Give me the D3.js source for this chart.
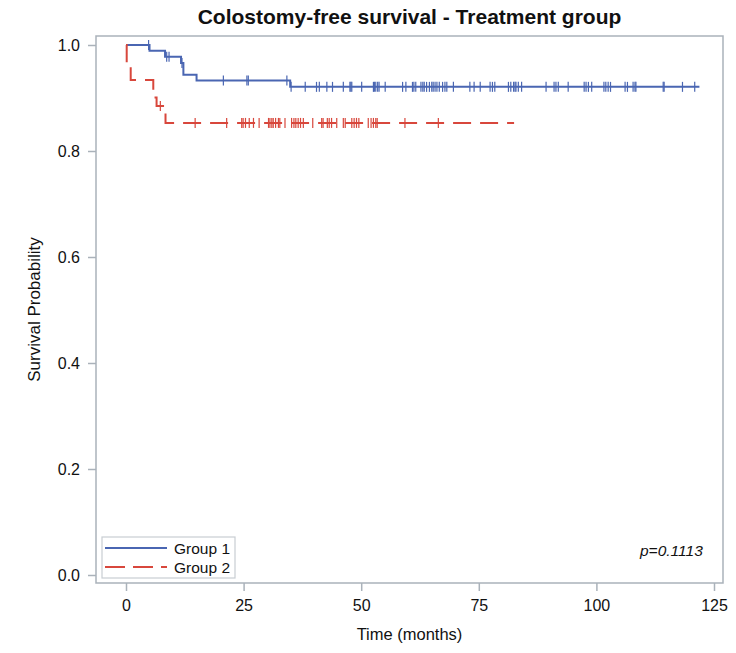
<!DOCTYPE html>
<html>
<head>
<meta charset="utf-8">
<script src="https://cdn.jsdelivr.net/npm/d3@7"></script>
<style>
  body { margin: 0; background: #fff; }
  svg { display: block; }
  text { font-family: "Liberation Sans", Arial, sans-serif; }
</style>
</head>
<body>
<svg id="chart" width="736" height="653"></svg>
<script>
// ---------- data ----------
const title = "Colostomy-free survival - Treatment group";
const xLabel = "Time (months)";
const yLabel = "Survival Probability";
const xTicks = [0, 25, 50, 75, 100, 125];
const yTicks = [0.0, 0.2, 0.4, 0.6, 0.8, 1.0];
const seriesNames = ["Group 1", "Group 2"];
const pText = "p=0.1113";

// step curves: [time, survival]
const group1Steps = [[0,1],[5.0,0.989],[8.3,0.978],[11.7,0.966],[12.2,0.944],[15.0,0.933],[34.9,0.921],[121.9,0.921]];
const group2Steps = [[0,1],[0.15,0.967],[1.0,0.934],[5.8,0.901],[6.5,0.885],[8.4,0.853],[82.5,0.853]];

// censoring times
const group1Censor = [4.8, 8.65, 9.15, 11.9, 20.7, 25.7, 26.0, 34.2, 35.1,
  38.1, 40.5, 41.1, 42.7, 43.9, 46.2, 47.6, 47.8, 48.0, 50.1, 52.6, 52.8, 53.1, 53.5, 53.8, 55.1,
  58.8, 59.5, 60.9, 61.2, 61.6, 62.7, 63.1, 63.4, 63.9, 64.5, 65.0, 65.3, 65.7, 66.1, 66.6, 67.3,
  67.8, 68.2, 69.6, 73.1, 74.0, 75.3, 77.4, 77.9, 78.4, 81.3, 81.8, 82.4, 82.7, 82.9, 83.4, 84.1,
  89.3, 91.0, 91.4, 91.9, 94.0, 97.4, 97.8, 98.3, 99.0, 101.6, 102.0, 102.5, 103.0, 106.1, 106.6,
  107.8, 108.2, 108.4, 114.2, 114.4, 118.3, 120.9];
const group2Censor = [7.3, 14.7, 21.4, 24.6, 24.9, 25.4, 26.2, 27.1, 28.3, 30.3, 30.6, 31.0, 31.3,
  31.8, 32.4, 32.7, 33.8, 35.2, 35.7, 36.1, 36.6, 37.1, 37.7, 39.7, 41.6, 41.9, 42.8, 43.2, 43.7,
  44.8, 46.2, 46.6, 48.0, 48.5, 49.0, 49.5, 51.5, 52.1, 52.6, 53.1, 53.4, 59.3, 66.4];

// ---------- layout ----------
const colors = ["#4a66b2", "#d8473c"];
const frameColor = "#aab2ba";
const svg = d3.select("#chart");

const x = d3.scaleLinear().domain([0, 125]).range([126, 714]);
const y = d3.scaleLinear().domain([0, 1]).range([575, 45]);
const frame = { x0: 96, x1: 723, y0: 36, y1: 583 };

// frame
svg.append("rect")
  .attr("x", frame.x0).attr("y", frame.y0)
  .attr("width", frame.x1 - frame.x0).attr("height", frame.y1 - frame.y0)
  .attr("fill", "none").attr("stroke", frameColor).attr("stroke-width", 1.5);

// axes
const xAxis = d3.axisBottom(x).tickValues(xTicks).tickSize(8).tickPadding(9).tickFormat(d3.format("d"));
const gx = svg.append("g").attr("transform", `translate(0,${frame.y1})`).call(xAxis);
gx.select(".domain").remove();
gx.selectAll("line").attr("stroke", frameColor).attr("stroke-width", 1.5);
gx.selectAll("text").attr("font-size", 16).attr("fill", "#111");

const yAxis = d3.axisLeft(y).tickValues(yTicks).tickSize(8).tickPadding(8).tickFormat(d3.format(".1f"));
const gy = svg.append("g").attr("transform", `translate(${frame.x0},0)`).call(yAxis);
gy.select(".domain").remove();
gy.selectAll("line").attr("stroke", frameColor).attr("stroke-width", 1.5);
gy.selectAll("text").attr("font-size", 16).attr("fill", "#111");

// titles
svg.append("text").attr("x", (frame.x0 + frame.x1) / 2).attr("y", 24)
  .attr("text-anchor", "middle").attr("font-size", 21).attr("font-weight", "bold")
  .attr("fill", "#111").text(title);
svg.append("text").attr("x", (frame.x0 + frame.x1) / 2).attr("y", 640)
  .attr("text-anchor", "middle").attr("font-size", 16.5).attr("fill", "#111").text(xLabel);
svg.append("text").attr("transform", `translate(40,${(frame.y0 + frame.y1) / 2}) rotate(-90)`)
  .attr("text-anchor", "middle").attr("font-size", 17).attr("fill", "#111").text(yLabel);

// curves
const line = d3.line().x(d => x(d[0])).y(d => y(d[1])).curve(d3.curveStepAfter);
const dashes = [null, "18,9"];
[group1Steps, group2Steps].forEach((s, i) => {
  svg.append("path").datum(s).attr("d", line)
    .attr("fill", "none").attr("stroke", colors[i]).attr("stroke-width", 2)
    .attr("stroke-dasharray", dashes[i]);
});

// censor marks
function survAt(steps, t) {
  let v = steps[0][1];
  for (const s of steps) { if (s[0] <= t) v = s[1]; }
  return v;
}
[[group1Censor, group1Steps], [group2Censor, group2Steps]].forEach(([cs, st], i) => {
  svg.append("g").selectAll("line").data(cs).join("line")
    .attr("x1", d => x(d)).attr("x2", d => x(d))
    .attr("y1", d => y(survAt(st, d)) - 5).attr("y2", d => y(survAt(st, d)) + 5)
    .attr("stroke", colors[i]).attr("stroke-width", 1.2);
});

// legend
const lg = svg.append("g");
lg.append("rect").attr("x", 102).attr("y", 537).attr("width", 133).attr("height", 41)
  .attr("fill", "#fff").attr("stroke", "#c8cdd2").attr("stroke-width", 1.2);
seriesNames.forEach((n, i) => {
  const yy = 548 + i * 19;
  lg.append("line").attr("x1", 105).attr("x2", 167).attr("y1", yy).attr("y2", yy)
    .attr("stroke", colors[i]).attr("stroke-width", 2).attr("stroke-dasharray", dashes[i] ? "20,8" : null);
  lg.append("text").attr("x", 174).attr("y", yy + 5.5).attr("font-size", 15.5).attr("fill", "#111").text(n);
});

// p-value
svg.append("text").attr("x", 640).attr("y", 556).attr("font-size", 15.5).attr("font-style", "italic")
  .attr("font-family", "'Open Sans', sans-serif").attr("fill", "#111").text(pText);
</script>
</body>
</html>
